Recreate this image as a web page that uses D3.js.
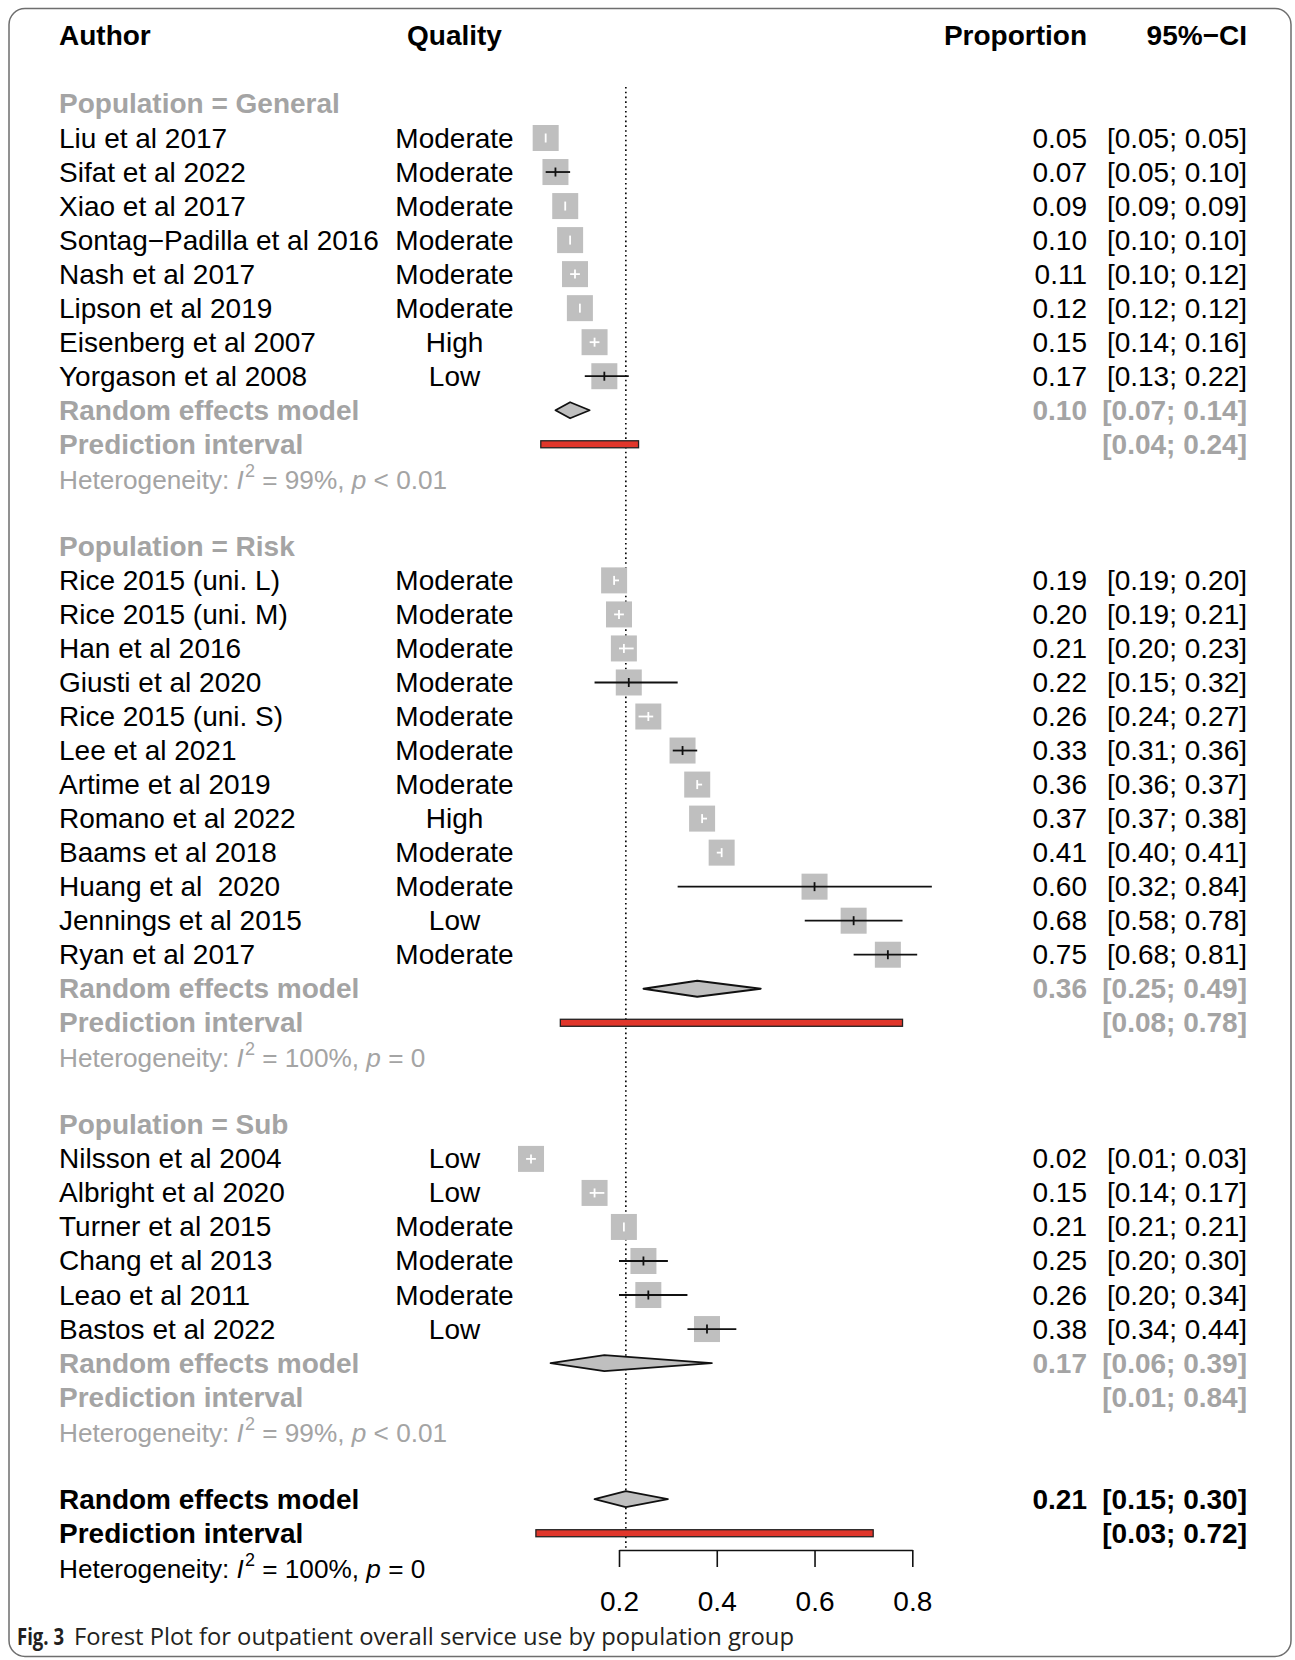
<!DOCTYPE html>
<html>
<head>
<meta charset="utf-8">
<script src="https://cdn.jsdelivr.net/npm/d3@7"></script>
<style>
  html, body { margin: 0; padding: 0; background: #fff; }
  svg { display: block; }
  text { font-family: "Liberation Sans", Arial, Helvetica, sans-serif; }
</style>
</head>
<body>
<svg id="chart" width="1295" height="1660"></svg>
<script>
// ---------------- DATA ----------------
const groupNames = ["General", "Risk", "Sub"];

const authorsGeneral = ["Liu et al 2017", "Sifat et al 2022", "Xiao et al 2017", "Sontag\u2212Padilla et al 2016",
  "Nash et al 2017", "Lipson et al 2019", "Eisenberg et al 2007", "Yorgason et al 2008"];
const qualityGeneral = ["Moderate", "Moderate", "Moderate", "Moderate", "Moderate", "Moderate", "High", "Low"];
const propGeneral  = [0.05, 0.07, 0.09, 0.10, 0.11, 0.12, 0.15, 0.17];
const lowerGeneral = [0.05, 0.05, 0.09, 0.10, 0.10, 0.12, 0.14, 0.13];
const upperGeneral = [0.05, 0.10, 0.09, 0.10, 0.12, 0.12, 0.16, 0.22];

const authorsRisk = ["Rice 2015 (uni. L)", "Rice 2015 (uni. M)", "Han et al 2016", "Giusti et al 2020",
  "Rice 2015 (uni. S)", "Lee et al 2021", "Artime et al 2019", "Romano et al 2022", "Baams et al 2018",
  "Huang et al  2020", "Jennings et al 2015", "Ryan et al 2017"];
const qualityRisk = ["Moderate", "Moderate", "Moderate", "Moderate", "Moderate", "Moderate", "Moderate",
  "High", "Moderate", "Moderate", "Low", "Moderate"];
const propRisk  = [0.19, 0.20, 0.21, 0.22, 0.26, 0.33, 0.36, 0.37, 0.41, 0.60, 0.68, 0.75];
const lowerRisk = [0.19, 0.19, 0.20, 0.15, 0.24, 0.31, 0.36, 0.37, 0.40, 0.32, 0.58, 0.68];
const upperRisk = [0.20, 0.21, 0.23, 0.32, 0.27, 0.36, 0.37, 0.38, 0.41, 0.84, 0.78, 0.81];

const authorsSub = ["Nilsson et al 2004", "Albright et al 2020", "Turner et al 2015", "Chang et al 2013",
  "Leao et al 2011", "Bastos et al 2022"];
const qualitySub = ["Low", "Low", "Moderate", "Moderate", "Moderate", "Low"];
const propSub  = [0.02, 0.15, 0.21, 0.25, 0.26, 0.38];
const lowerSub = [0.01, 0.14, 0.21, 0.20, 0.20, 0.34];
const upperSub = [0.03, 0.17, 0.21, 0.30, 0.34, 0.44];

// subgroup random-effects summaries and prediction intervals
const reEst = [0.10, 0.36, 0.17];
const reLow = [0.07, 0.25, 0.06];
const reHigh = [0.14, 0.49, 0.39];
const piLow = [0.04, 0.08, 0.01];
const piHigh = [0.24, 0.78, 0.84];
const piShown = [true, true, false];
const hetI2 = ["99%", "100%", "99%"];
const hetP = ["< 0.01", "= 0", "< 0.01"];

// overall
const overallEst = 0.214, overallLow = 0.15, overallHigh = 0.30;
const overallPiLow = 0.03, overallPiHigh = 0.72;
const overallI2 = "100%", overallP = "= 0";

const axisTicks = [0.2, 0.4, 0.6, 0.8];
const headers = ["Author", "Quality", "Proportion", "95%\u2212CI"];
const captionBold = "Fig. 3";
const captionText = "Forest Plot for outpatient overall service use by population group";

// ---------------- LAYOUT ----------------
const W = 1295, H = 1660;
const FS = 28;
const GRAY_TXT = "#a4a4a4";
const BOX = "#bfbfbf";
const xAuthor = 59, xQuality = 454.5, xProp = 1087, xCI = 1247;
const rowH = 34.03, row1Y = 138;
const rowY = i => row1Y + (i - 1) * rowH;
const baseOff = 9.5;
const half = 13;  // half square
const fmt = d3.format(".2f");
const ciText = (l, h) => "[" + fmt(l) + "; " + fmt(h) + "]";

const x = d3.scaleLinear().domain([0.2, 0.8]).range([619, 912.3]);

const svg = d3.select("#chart");
svg.append("rect").attr("width", W).attr("height", H).attr("fill", "#fff");

// border
svg.append("rect").attr("x", 9).attr("y", 8.5).attr("width", 1282).attr("height", 1648)
  .attr("rx", 16).attr("fill", "none").attr("stroke", "#6e6e6e").attr("stroke-width", 1.5);

// build row list
const groupsData = [
  {a: authorsGeneral, q: qualityGeneral, p: propGeneral, l: lowerGeneral, u: upperGeneral},
  {a: authorsRisk, q: qualityRisk, p: propRisk, l: lowerRisk, u: upperRisk},
  {a: authorsSub, q: qualitySub, p: propSub, l: lowerSub, u: upperSub}
];
const studies = [], summaries = [], pis = [], labels = [];
let r = 0;
groupsData.forEach((g, gi) => {
  labels.push({row: r, text: "Population = " + groupNames[gi], bold: true, color: GRAY_TXT});
  r++;
  g.a.forEach((name, k) => {
    studies.push({row: r, author: name, quality: g.q[k], est: g.p[k], lo: g.l[k], hi: g.u[k]});
    r++;
  });
  summaries.push({row: r, est: reEst[gi], lo: reLow[gi], hi: reHigh[gi], color: GRAY_TXT});
  labels.push({row: r, text: "Random effects model", bold: true, color: GRAY_TXT});
  r++;
  pis.push({row: r, lo: piLow[gi], hi: piHigh[gi], color: GRAY_TXT, shown: piShown[gi]});
  labels.push({row: r, text: "Prediction interval", bold: true, color: GRAY_TXT});
  r++;
  labels.push({row: r, het: true, i2: hetI2[gi], p: hetP[gi], color: GRAY_TXT});
  r++;
  r++; // blank
});
summaries.push({row: r, est: overallEst, lo: overallLow, hi: overallHigh, color: "#000"});
labels.push({row: r, text: "Random effects model", bold: true, color: "#000"});
r++;
pis.push({row: r, lo: overallPiLow, hi: overallPiHigh, color: "#000", shown: true});
labels.push({row: r, text: "Prediction interval", bold: true, color: "#000"});
r++;
labels.push({row: r, het: true, i2: overallI2, p: overallP, color: "#000"});

// headers
const hy = rowY(-2) + baseOff;
const hAnchors = ["start", "middle", "end", "end"];
const hX = [xAuthor, xQuality, xProp, xCI];
svg.selectAll("text.hdr").data(headers).join("text").attr("class", "hdr")
  .attr("x", (d, i) => hX[i]).attr("y", hy).attr("text-anchor", (d, i) => hAnchors[i])
  .attr("font-size", FS).attr("font-weight", "bold").attr("fill", "#000").text(d => d);

// reference dotted line
svg.append("line").attr("x1", x(overallEst)).attr("x2", x(overallEst))
  .attr("y1", rowY(0) - 17).attr("y2", 1550)
  .attr("stroke", "#000").attr("stroke-width", 1.6).attr("stroke-dasharray", "1.6 3.2");

// labels (left column)
labels.forEach(d => {
  const t = svg.append("text").attr("x", xAuthor).attr("y", rowY(d.row) + baseOff)
    .attr("font-size", FS).attr("fill", d.color);
  if (d.het) {
    t.attr("font-size", 26.2).attr("y", rowY(d.row) + baseOff + 1);
    t.append("tspan").text("Heterogeneity: ");
    t.append("tspan").attr("font-style", "italic").text("I");
    t.append("tspan").attr("font-size", 18).attr("dy", -12).attr("dx", 1).text("2");
    t.append("tspan").attr("dy", 12).text(" = " + d.i2 + ", ");
    t.append("tspan").attr("font-style", "italic").text("p");
    t.append("tspan").text(" " + d.p);
  } else {
    t.attr("font-weight", d.bold ? "bold" : "normal").text(d.text);
  }
});

// study rows text
const sg = svg.append("g");
sg.selectAll("text.auth").data(studies).join("text").attr("class", "auth")
  .attr("x", xAuthor).attr("y", d => rowY(d.row) + baseOff).attr("font-size", FS)
  .style("white-space", "pre").text(d => d.author);
sg.selectAll("text.qual").data(studies).join("text").attr("class", "qual")
  .attr("x", xQuality).attr("y", d => rowY(d.row) + baseOff).attr("text-anchor", "middle")
  .attr("font-size", FS).text(d => d.quality);
sg.selectAll("text.prop").data(studies).join("text").attr("class", "prop")
  .attr("x", xProp).attr("y", d => rowY(d.row) + baseOff).attr("text-anchor", "end")
  .attr("font-size", FS).text(d => fmt(d.est));
sg.selectAll("text.ci").data(studies).join("text").attr("class", "ci")
  .attr("x", xCI).attr("y", d => rowY(d.row) + baseOff).attr("text-anchor", "end")
  .attr("font-size", FS).text(d => ciText(d.lo, d.hi));

// squares
sg.selectAll("rect.sq").data(studies).join("rect").attr("class", "sq")
  .attr("x", d => x(d.est) - half).attr("y", d => rowY(d.row) - half)
  .attr("width", 2 * half).attr("height", 2 * half).attr("fill", BOX);
const inside = d => x(d.lo) >= x(d.est) - half && x(d.hi) <= x(d.est) + half;
sg.selectAll("line.ciL").data(studies).join("line").attr("class", "ciL")
  .attr("x1", d => x(d.lo)).attr("x2", d => x(d.hi))
  .attr("y1", d => rowY(d.row)).attr("y2", d => rowY(d.row))
  .attr("stroke", d => inside(d) ? "#fff" : "#111").attr("stroke-width", 1.8);
sg.selectAll("line.tick").data(studies).join("line").attr("class", "tick")
  .attr("x1", d => x(d.est)).attr("x2", d => x(d.est))
  .attr("y1", d => rowY(d.row) - 4.5).attr("y2", d => rowY(d.row) + 4.5)
  .attr("stroke", d => inside(d) ? "#fff" : "#111").attr("stroke-width", 1.8);

// summary diamonds + text
const dh = 8;
svg.selectAll("path.dia").data(summaries).join("path").attr("class", "dia")
  .attr("d", d => {
    const y = rowY(d.row);
    return `M${x(d.lo)},${y}L${x(d.est)},${y - dh}L${x(d.hi)},${y}L${x(d.est)},${y + dh}Z`;
  })
  .attr("fill", BOX).attr("stroke", "#111").attr("stroke-width", 1.8).attr("stroke-linejoin", "round");
svg.selectAll("text.sprop").data(summaries).join("text").attr("class", "sprop")
  .attr("x", xProp).attr("y", d => rowY(d.row) + baseOff).attr("text-anchor", "end")
  .attr("font-size", FS).attr("font-weight", "bold").attr("fill", d => d.color).text(d => fmt(d.est));
svg.selectAll("text.sci").data(summaries).join("text").attr("class", "sci")
  .attr("x", xCI).attr("y", d => rowY(d.row) + baseOff).attr("text-anchor", "end")
  .attr("font-size", FS).attr("font-weight", "bold").attr("fill", d => d.color).text(d => ciText(d.lo, d.hi));

// prediction intervals
svg.selectAll("rect.pi").data(pis.filter(d => d.shown)).join("rect").attr("class", "pi")
  .attr("x", d => x(d.lo)).attr("y", d => rowY(d.row) - 3.5)
  .attr("width", d => x(d.hi) - x(d.lo)).attr("height", 7)
  .attr("fill", "#e0362b").attr("stroke", "#222").attr("stroke-width", 1.3);
svg.selectAll("text.pici").data(pis).join("text").attr("class", "pici")
  .attr("x", xCI).attr("y", d => rowY(d.row) + baseOff).attr("text-anchor", "end")
  .attr("font-size", FS).attr("font-weight", "bold").attr("fill", d => d.color).text(d => ciText(d.lo, d.hi));

// x axis
const ax = svg.append("g").attr("transform", "translate(0,1550)")
  .call(d3.axisBottom(x).tickValues(axisTicks).tickSize(17).tickSizeOuter(0)
    .tickPadding(24).tickFormat(d3.format(".1f")));
ax.select(".domain").attr("stroke", "#111").attr("stroke-width", 1.6);
ax.selectAll(".tick line").attr("stroke", "#111").attr("stroke-width", 1.6);
ax.selectAll(".tick text").attr("font-size", FS).attr("fill", "#000")
  .attr("font-family", "Liberation Sans, Arial, sans-serif");

// caption
svg.append("text").attr("x", 17).attr("y", 1645).attr("font-size", 23).attr("font-weight", "bold")
  .attr("fill", "#231f20").attr("textLength", 47).attr("lengthAdjust", "spacingAndGlyphs")
  .style("font-family", "'Liberation Sans Narrow', 'Open Sans', sans-serif").text(captionBold);
svg.append("text").attr("x", 74).attr("y", 1645).attr("font-size", 23)
  .attr("fill", "#231f20").attr("textLength", 720).attr("lengthAdjust", "spacingAndGlyphs")
  .style("font-family", "'Liberation Sans Narrow', 'Open Sans', sans-serif").text(captionText);
</script>
</body>
</html>
